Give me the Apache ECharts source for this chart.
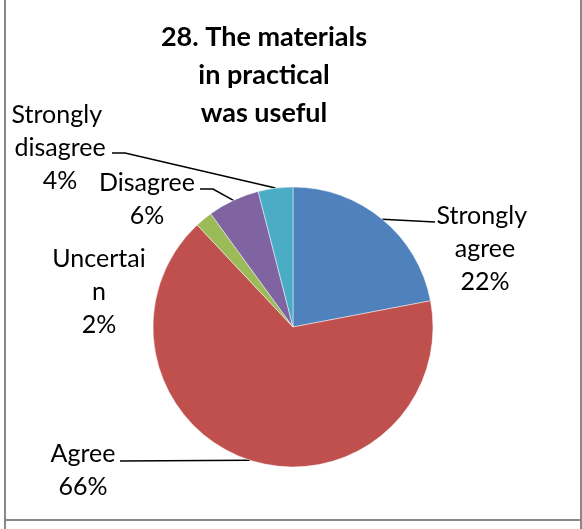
<!DOCTYPE html>
<html><head><meta charset="utf-8">
<script src="https://cdn.jsdelivr.net/npm/echarts@6/dist/echarts.min.js"></script>
<style>html,body{margin:0;padding:0;background:#fff}#c{width:582px;height:529px}</style>
</head><body><div id="c"></div>
<script>
const titleText = '28. The materials\nin practical\nwas useful';
const categories = ['Strongly agree', 'Agree', 'Uncertain', 'Disagree', 'Strongly disagree'];
const percentages = [22, 66, 2, 6, 4];
const colors = ['#4F81BD', '#C0504D', '#9BBB59', '#8064A2', '#4BACC6'];

// label placement (layout/style only)
const labelPlacement = [
  {x: 485, y: 249, width: 100, overflow: 'break', lineDx: -50, lineDy: -27, elbow: 0},
  {x: 83,  y: 470, lineDx: 37, lineDy: -9, elbow: 0},
  {x: 99,  y: 292, width: 96, overflow: 'breakAll', line: false},
  {x: 147, y: 199, lineDx: 53, lineDy: -10, elbow: 13},
  {x: 60,  y: 148, width: 100, overflow: 'break', lineDx: 52, lineDy: 5, elbow: 13}
];

const chart = echarts.init(document.getElementById('c'), null, {renderer: 'canvas'});
const data = categories.map((name, i) => {
  const lp = labelPlacement[i];
  const item = {name: name, value: percentages[i], itemStyle: {color: colors[i]}, label: {}};
  if (lp.width) { item.label.width = lp.width; item.label.overflow = lp.overflow; }
  if (lp.line === false) item.labelLine = {show: false};
  return item;
});

chart.setOption({
  animation: false,
  backgroundColor: '#fff',
  title: {
    text: titleText,
    left: 264, top: 18, padding: 0, textAlign: 'center',
    textStyle: {fontFamily: 'Lato', fontWeight: 'bold', fontSize: 27, lineHeight: 38, color: '#000'}
  },
  graphic: [
    {type: 'line', shape: {x1: 5, y1: 0, x2: 5, y2: 529}, style: {stroke: '#888', lineWidth: 2}},
    {type: 'line', shape: {x1: 581, y1: 0, x2: 581, y2: 529}, style: {stroke: '#888', lineWidth: 2}},
    {type: 'line', shape: {x1: 5, y1: 520, x2: 581, y2: 520}, style: {stroke: '#888', lineWidth: 2}}
  ],
  series: [{
    type: 'pie',
    center: [293, 327],
    radius: 140,
    startAngle: 90,
    clockwise: true,
    avoidLabelOverlap: false,
    emphasis: {disabled: true},
    itemStyle: {borderColor: 'rgba(255,255,255,0.6)', borderWidth: 0.8},
    label: {
      show: true,
      position: 'outside',
      fontFamily: 'Lato',
      fontSize: 25,
      lineHeight: 33,
      color: '#000',
      align: 'center',
      formatter: p => p.name + '\n' + p.value + '%'
    },
    labelLine: {show: true, lineStyle: {color: '#000', width: 1.5}},
    labelLayout: function (p) {
      const cfg = labelPlacement[p.dataIndex];
      const out = {x: cfg.x, y: cfg.y, align: 'center', verticalAlign: 'middle'};
      if (cfg.line !== false && p.labelLinePoints) {
        const start = p.labelLinePoints[0];
        const ex = cfg.x + cfg.lineDx, ey = cfg.y + cfg.lineDy;
        const dir = cfg.lineDx > 0 ? 1 : -1;
        out.labelLinePoints = [start, [ex + dir * cfg.elbow, ey], [ex, ey]];
      }
      return out;
    },
    data: data
  }]
});
</script></body></html>
